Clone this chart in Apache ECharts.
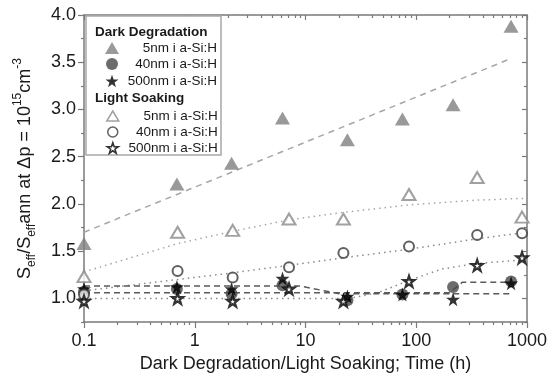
<!DOCTYPE html>
<html><head><meta charset="utf-8">
<script src="https://cdn.jsdelivr.net/npm/echarts@6/dist/echarts.min.js"></script>
<style>html,body{margin:0;padding:0;background:#fff}#c{width:555px;height:378px}</style>
</head><body><div id="c"></div>
<script>
// ---- data ----
const darkTime   = [0.1, 0.69, 2.15, 6.2, 23.9, 75, 215, 718];
const dark5nm    = [1.58, 2.21, 2.43, 2.91, 2.68, 2.90, 3.05, 3.88];
const dark40nm   = [1.07, 1.10, 1.05, 1.14, 0.98, 1.04, 1.12, 1.18];
const dark500nm  = [1.10, 1.12, 1.10, 1.21, 1.02, 1.04, 0.99, 1.16];
const lightTime  = [0.1, 0.70, 2.2, 7.1, 22, 86, 355, 902];
const light5nm   = [1.23, 1.70, 1.72, 1.84, 1.84, 2.10, 2.28, 1.86];
const light40nm  = [1.04, 1.29, 1.22, 1.33, 1.48, 1.55, 1.67, 1.69];
const light500nm = [0.97, 1.00, 0.97, 1.10, 0.97, 1.18, 1.35, 1.43];

// fit / guide lines
const fitDark5T  = [0.1, 720];
const fitDark5   = [1.70, 3.54];
const fitDarkAT  = [0.1, 9, 20, 720];
const fitDarkA   = [1.13, 1.13, 1.05, 1.05];
const fitDarkBT  = [0.1, 200, 260, 720];
const fitDarkB   = [1.06, 1.06, 1.17, 1.17];
const fitLight5T = [0.1, 0.7, 2.2, 7, 22, 86, 350, 1000];
const fitLight5  = [1.28, 1.58, 1.71, 1.83, 1.91, 1.99, 2.04, 2.06];
const fitLight40T= [0.1, 0.7, 2.2, 7, 22, 86, 350, 1000];
const fitLight40 = [1.08, 1.20, 1.27, 1.35, 1.43, 1.52, 1.63, 1.70];
const fitLight500T=[0.1, 25, 45, 86, 170, 350, 1000];
const fitLight500= [1.00, 1.00, 1.06, 1.19, 1.31, 1.37, 1.41];

// axis ticks
const xMajor = [0.1, 1, 10, 100, 1000];
const xMinor = [0.2,0.3,0.4,0.5,0.6,0.7,0.8,0.9,2,3,4,5,6,7,8,9,20,30,40,50,60,70,80,90,200,300,400,500,600,700,800,900];
const yMajor = [1.0, 1.5, 2.0, 2.5, 3.0, 3.5, 4.0];
const yMinor = [0.75, 1.25, 1.75, 2.25, 2.75, 3.25, 3.75];

const legendText = {D5:'5nm i a-Si:H', D40:'40nm i a-Si:H', D500:'500nm i a-Si:H',
                    L5:'5nm i a-Si:H', L40:'40nm i a-Si:H', L500:'500nm i a-Si:H'};
// name, row centre y, icon w, icon h, icon border
const legendRows = [['D5',48,14,12,0],['D40',64,12,12,0],['D500',81,13,13,0],
                    ['L5',116,12,10,1.5],['L40',132,10,10,1.5],['L500',148,11,11,1.6]];

const zip = (a, b) => a.map((v, i) => [v, b[i]]);
const STAR = 'path://M50,2 L61.8,36.2 L97.6,36.2 L68.6,57.6 L79.4,92 L50,71 L20.6,92 L31.4,57.6 L2.4,36.2 L38.2,36.2 Z';
const FONT = 'Liberation Sans, Arial, sans-serif';
const AX = '#7a7a7a';

function fitLine(t, v, color, type, width) {
  return {type:'line', data: zip(t, v), showSymbol:false, symbol:'none', silent:true, z:2,
          lineStyle:{color, type, width}, smooth: false};
}
function pts(name, t, v, symbol, size, itemStyle) {
  return {type:'scatter', name, data: zip(t, v), symbol, symbolSize:size, itemStyle, z:5};
}
function legendOf(name, cy, w, h, bw) {
  const left = 112 - w / 2;
  const tw = 217 - (left + w + 5);
  const lg = {orient:'vertical', left, top:cy - 8, itemWidth:w, itemHeight:h, padding:0,
    data:[name], formatter:n=>'{a|'+legendText[n]+'}',
    textStyle:{fontFamily:FONT, fontSize:13.5, color:'#1a1a1a',
      rich:{a:{width:tw, align:'right', fontSize:13.5, height:16, lineHeight:16, fontFamily:FONT, color:'#1a1a1a'}}},
    z:10};
  if (bw) lg.itemStyle = {borderWidth: bw};
  return lg;
}

const chart = echarts.init(document.getElementById('c'), null, {renderer:'canvas'});
const xBase = {type:'log', logBase:10, min:0.1, max:1000, gridIndex:0, splitLine:{show:false}};
const yBase = {type:'value', min:0.75, max:4.0, gridIndex:0, splitLine:{show:false}};
chart.setOption({
  animation:false,
  backgroundColor:'#fff',
  textStyle:{fontFamily:FONT},
  grid:{left:84, right:28, top:15, bottom:56, containLabel:false},
  xAxis:[
    Object.assign({}, xBase, {position:'bottom',
      axisLine:{show:true, lineStyle:{color:AX, width:1.5}},
      axisTick:{show:true, inside:false, length:6, lineStyle:{color:AX, width:1.2}, customValues:xMajor},
      axisLabel:{show:true, customValues:xMajor, formatter:v=>String(+v.toPrecision(3)), fontSize:18, color:'#1a1a1a', margin:10, fontFamily:FONT},
      name:'Dark Degradation/Light Soaking; Time (h)', nameLocation:'middle', nameGap:31,
      nameTextStyle:{fontSize:18, color:'#1a1a1a', fontFamily:FONT}}),
    Object.assign({}, xBase, {position:'bottom', axisLine:{show:false},
      axisTick:{show:true, inside:false, length:3, lineStyle:{color:AX, width:1.2}, customValues:xMinor},
      axisLabel:{show:false}}),
    Object.assign({}, xBase, {position:'top',
      axisLine:{show:true, lineStyle:{color:AX, width:1.5}},
      axisTick:{show:true, inside:true, length:5, lineStyle:{color:AX, width:1.2}, customValues:xMajor},
      axisLabel:{show:false}}),
    Object.assign({}, xBase, {position:'top', axisLine:{show:false},
      axisTick:{show:true, inside:true, length:3, lineStyle:{color:AX, width:1.2}, customValues:xMinor},
      axisLabel:{show:false}})
  ],
  yAxis:[
    Object.assign({}, yBase, {position:'left',
      axisLine:{show:true, lineStyle:{color:AX, width:1.5}},
      axisTick:{show:true, inside:false, length:6, lineStyle:{color:AX, width:1.2}, customValues:yMajor},
      axisLabel:{show:true, customValues:yMajor, formatter:v=>(+v).toFixed(1), fontSize:18, color:'#1a1a1a', margin:8, fontFamily:FONT},
      name:'{n|S}{s|eff}{n|/S}{s|eff}{n|ann at Δp = 10}{u|15}{n|cm}{u|-3}',
      nameLocation:'middle', nameRotate:90, nameGap:46,
      nameTextStyle:{fontFamily:FONT, color:'#1a1a1a', rich:{
        n:{fontSize:18, lineHeight:26, verticalAlign:'middle', color:'#1a1a1a', fontFamily:FONT},
        s:{fontSize:12, lineHeight:12, verticalAlign:'bottom', color:'#1a1a1a', fontFamily:FONT},
        u:{fontSize:12, lineHeight:12, verticalAlign:'top', color:'#1a1a1a', fontFamily:FONT}
      }}}),
    Object.assign({}, yBase, {position:'left', axisLine:{show:false},
      axisTick:{show:true, inside:false, length:3, lineStyle:{color:AX, width:1.2}, customValues:yMinor},
      axisLabel:{show:false}}),
    Object.assign({}, yBase, {position:'right',
      axisLine:{show:true, lineStyle:{color:AX, width:1.5}},
      axisTick:{show:true, inside:true, length:5, lineStyle:{color:AX, width:1.2}, customValues:yMajor},
      axisLabel:{show:false}}),
    Object.assign({}, yBase, {position:'right', axisLine:{show:false},
      axisTick:{show:true, inside:true, length:3, lineStyle:{color:AX, width:1.2}, customValues:yMinor},
      axisLabel:{show:false}})
  ],
  legend: legendRows.map(r => legendOf(r[0], r[1], r[2], r[3], r[4])),
  graphic:[
    {type:'rect', shape:{x:86, y:16, width:135, height:139}, style:{fill:'#fff', stroke:'#a8a8a8', lineWidth:1.5}, z:8, silent:true},
    {type:'text', x:95, y:32, style:{text:'Dark Degradation', font:'bold 13.5px '+FONT, fill:'#1a1a1a', textVerticalAlign:'middle'}, z:12},
    {type:'text', x:95, y:98, style:{text:'Light Soaking', font:'bold 13.5px '+FONT, fill:'#1a1a1a', textVerticalAlign:'middle'}, z:12}
  ],
  series:[
    fitLine(fitDark5T, fitDark5, '#a6a6a6', [6,5], 1.5),
    fitLine(fitLight5T, fitLight5, '#a6a6a6', [1.5,4], 1.5),
    fitLine(fitLight40T, fitLight40, '#8a8a8a', [1.5,4], 1.5),
    fitLine(fitLight500T, fitLight500, '#8a8a8a', [1.5,4], 1.5),
    fitLine(fitDarkAT, fitDarkA, '#5a5a5a', [6,4], 1.5),
    fitLine(fitDarkBT, fitDarkB, '#5a5a5a', [6,4], 1.5),
    pts('D5', darkTime, dark5nm, 'triangle', [15,13], {color:'#808080'}),
    pts('D40', darkTime, dark40nm, 'circle', 12, {color:'#474747'}),
    pts('D500', darkTime, dark500nm, STAR, 14, {color:'#000'}),
    pts('L5', lightTime, light5nm, 'triangle', [13,11], {color:'#fff', borderColor:'#8a8a8a', borderWidth:2}),
    pts('L40', lightTime, light40nm, 'circle', 10, {color:'#fff', borderColor:'#3a3a3a', borderWidth:2}),
    pts('L500', lightTime, light500nm, STAR, 11, {color:'#fff', borderColor:'#000', borderWidth:2.2})
  ]
});
</script></body></html>
